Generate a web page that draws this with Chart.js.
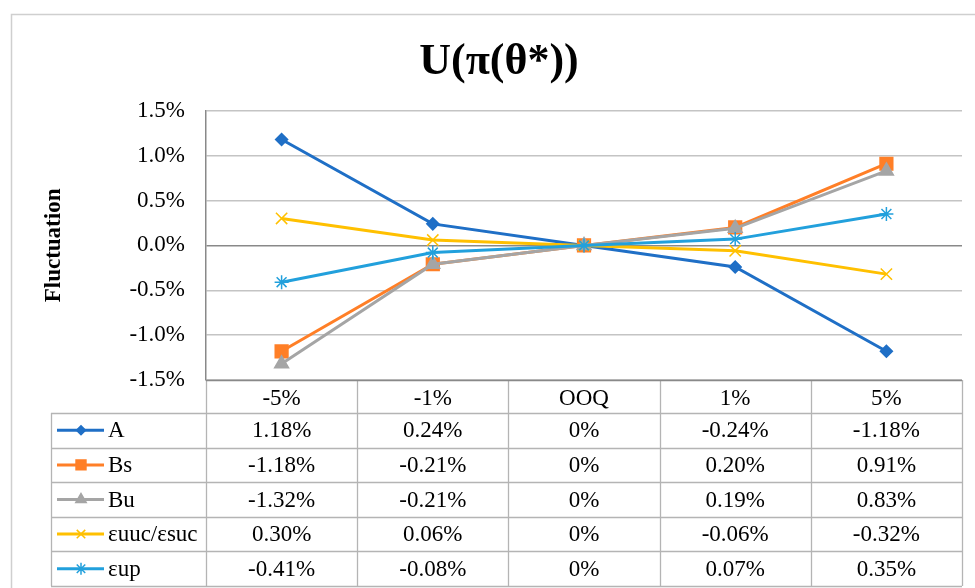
<!DOCTYPE html>
<html>
<head>
<meta charset="utf-8">
<script src="https://cdn.jsdelivr.net/npm/chart.js@4.4.0/dist/chart.umd.min.js"></script>
<style>
    html, body { margin: 0; padding: 0; background: #fff; }
    #wrap { width: 975px; height: 588px; }
</style>
</head>
<body>
<div id="wrap"><canvas id="fluctChart" width="975" height="588"></canvas></div>
<script>
// ============ DATA ============
const categories = ['-5%', '-1%', 'OOQ', '1%', '5%'];
const seriesNames = ['A', 'Bs', 'Bu', 'εuuc/εsuc', 'εup'];
const valuesA = [1.18, 0.24, 0, -0.24, -1.18];
const valuesBs = [-1.18, -0.21, 0, 0.20, 0.91];
const valuesBu = [-1.32, -0.21, 0, 0.19, 0.83];
const valuesEuuc = [0.30, 0.06, 0, -0.06, -0.32];
const valuesEup = [-0.41, -0.08, 0, 0.07, 0.35];
const yMin = -1.5, yMax = 1.5, yStep = 0.5;

const FONT = "'Liberation Serif', 'Times New Roman', serif";
const colors = ['#1f6fc6', '#ff7f27', '#a5a5a5', '#ffc000', '#22a0dc'];
const styles = ['rectRot', 'rect', 'triangle', 'crossRot', 'star'];
const radii = [6, 9, 8, 8, 7];
const keyRadii = [4.5, 7, 6, 6, 6];
const allValues = [valuesA, valuesBs, valuesBu, valuesEuuc, valuesEup];

function fmtPct(v) {
    return v === 0 ? '0%' : v.toFixed(2) + '%';
}

function line(ctx, x1, y1, x2, y2) {
    ctx.beginPath();
    ctx.moveTo(x1, y1);
    ctx.lineTo(x2, y2);
    ctx.stroke();
}

// outer frame of the chart object
const framePlugin = {
    id: 'frame',
    beforeDraw(chart) {
        const ctx = chart.ctx;
        ctx.save();
        ctx.strokeStyle = '#cfcfcf';
        ctx.lineWidth = 1.5;
        ctx.strokeRect(11.5, 14.5, 1000, 1000);
        ctx.restore();
    }
};

// data table under the plot, columns come from the x scale
const tablePlugin = {
    id: 'dataTable',
    afterDraw(chart) {
        const ctx = chart.ctx;
        const xs = chart.scales.x;
        const area = chart.chartArea;
        const n = categories.length;
        const colW = (area.right - area.left) / n;
        const headTop = area.bottom;
        const rowTop = headTop + 33;
        const rowH = 34.6;
        const legendLeft = 51;
        const bottom = rowTop + rowH * seriesNames.length;

        ctx.save();
        ctx.strokeStyle = '#b4b4b4';
        ctx.lineWidth = 1.3;
        for (let i = 0; i <= seriesNames.length; i++) {
            const y = Math.round(rowTop + i * rowH) + 0.5;
            line(ctx, legendLeft, y, area.right, y);
        }
        line(ctx, legendLeft + 0.5, rowTop, legendLeft + 0.5, bottom);
        for (let j = 0; j <= n; j++) {
            const x = Math.round(area.left + j * colW) + 0.5;
            line(ctx, x, headTop, x, bottom);
        }
        ctx.strokeStyle = '#898989';
        line(ctx, area.left, headTop + 0.5, area.right, headTop + 0.5);

        ctx.font = '23px ' + FONT;
        ctx.textBaseline = 'middle';
        seriesNames.forEach((name, i) => {
            const cy = rowTop + (i + 0.5) * rowH;
            ctx.fillStyle = '#000';
            ctx.textAlign = 'center';
            allValues[i].forEach((v, j) => {
                ctx.fillText(fmtPct(v), xs.getPixelForValue(j), cy + 1);
            });
            // legend key
            ctx.strokeStyle = colors[i];
            ctx.fillStyle = colors[i];
            ctx.lineWidth = 3;
            line(ctx, 57, cy, 104, cy);
            ctx.lineWidth = 1.5;
            Chart.helpers.drawPoint(ctx, { pointStyle: styles[i], radius: keyRadii[i], rotation: 0, borderWidth: 1.5 }, 81, cy);
            ctx.fillStyle = '#000';
            ctx.textAlign = 'left';
            ctx.fillText(name, 108, cy + 1);
        });
        ctx.restore();
    }
};

const datasets = seriesNames.map((name, i) => ({
    label: name,
    data: allValues[i],
    borderColor: colors[i],
    backgroundColor: colors[i],
    borderWidth: 3,
    pointStyle: styles[i],
    pointRadius: radii[i],
    pointBorderWidth: 1.5,
    pointBorderColor: colors[i],
    pointBackgroundColor: colors[i],
    tension: 0,
    fill: false,
    order: seriesNames.length - i
}));

new Chart(document.getElementById('fluctChart'), {
    type: 'line',
    data: { labels: categories, datasets: datasets },
    plugins: [framePlugin, tablePlugin],
    options: {
        responsive: false,
        devicePixelRatio: 1,
        animation: false,
        layout: { padding: { left: 36, right: 13, top: 0, bottom: 0 } },
        plugins: {
            legend: { display: false },
            tooltip: { enabled: false },
            title: {
                display: true,
                text: 'U(π(θ*))',
                color: '#000',
                font: { family: FONT, size: 44, weight: 'bold' },
                padding: { top: 36, bottom: 22 }
            }
        },
        scales: {
            x: {
                offset: true,
                grid: { display: false, drawTicks: false },
                border: { display: false },
                ticks: {
                    color: '#000',
                    font: { family: FONT, size: 23 },
                    padding: 5,
                    maxRotation: 0
                },
                afterFit(scale) { scale.height = 208; }
            },
            y: {
                min: yMin,
                max: yMax,
                border: { display: true, color: '#898989', width: 1.5 },
                grid: {
                    drawTicks: false,
                    lineWidth: 1.5,
                    color: (c) => (c.tick && c.tick.value === 0 ? '#898989' : '#c4c4c4')
                },
                ticks: {
                    stepSize: yStep,
                    color: '#000',
                    padding: 21,
                    font: { family: FONT, size: 23 },
                    callback: (v) => v.toFixed(1) + '%'
                },
                title: {
                    display: true,
                    text: 'Fluctuation',
                    color: '#000',
                    font: { family: FONT, size: 23, weight: 'bold' },
                    padding: { top: 4, bottom: 0 }
                },
                afterFit(scale) { scale.width = 206 - 36; }
            }
        }
    }
});
</script>
</body>
</html>
